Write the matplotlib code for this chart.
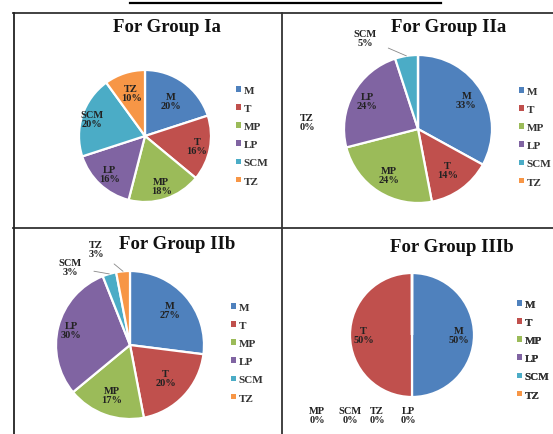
import matplotlib
matplotlib.use('Agg')
import matplotlib.pyplot as plt
import numpy as np
from matplotlib.lines import Line2D
from matplotlib.patches import Patch

plt.rcParams['font.family'] = 'Liberation Serif'
plt.rcParams['font.weight'] = 'bold'

# categories and colours (Excel 2007 defaults)
names = ['M', 'T', 'MP', 'LP', 'SCM', 'TZ']
colors = ['#4F81BD', '#C0504D', '#9BBB59', '#8064A2', '#4BACC6', '#F79646']

# percentage shares per group
group_ia = [20, 16, 18, 16, 20, 10]
group_iia = [33, 14, 24, 24, 5, 0]
group_iib = [27, 20, 17, 30, 3, 3]
group_iiib = [50, 50, 0, 0, 0, 0]

W, H = 553, 435
fig = plt.figure(figsize=(W / 100, H / 100), dpi=100)
ax = fig.add_axes([0, 0, 1, 1])


def Y(y):
    # image row -> data y
    return H - y


# panels: title, values, centre (image px), radius, title pos, legend pos,
# inside-label distance per slice, outside labels {index: (x, y, leader)}
panels = [
    dict(title='For Group Ia', vals=group_ia, c=(145, 137), r=66,
         tpos=(167, 28), lpos=(236, 87),
         dist=[0.66, 0.8, 0.8, 0.78, 0.85, 0.68], out={}),
    dict(title='For Group IIa', vals=group_iia, c=(418, 130), r=74,
         tpos=(449, 28), lpos=(519, 88),
         dist=[0.76, 0.68, 0.74, 0.78, 0.75, 0.75],
         out={4: (365, 39, True), 5: (307, 123, False)}),
    dict(title='For Group IIb', vals=group_iib, c=(130, 346), r=74,
         tpos=(177, 245), lpos=(231, 304),
         dist=[0.72, 0.66, 0.72, 0.82, 0.75, 0.75],
         out={4: (70, 268, True), 5: (96, 250, True)}),
    dict(title='For Group IIIb', vals=group_iiib, c=(412, 336), r=62,
         tpos=(452, 248), lpos=(517, 301),
         dist=[0.75, 0.78, 0.75, 0.75, 0.75, 0.75],
         out={2: (317, 416, False), 4: (350, 416, False),
              5: (377, 416, False), 3: (408, 416, False)}),
]

lblsize = 7.5
handles = [Patch(facecolor=c, edgecolor='none') for c in colors]

for p in panels:
    cx, cy = p['c']
    wedges, _ = ax.pie(p['vals'], colors=colors, startangle=90, counterclock=False,
                       center=(cx, Y(cy)), radius=p['r'],
                       wedgeprops=dict(edgecolor='white', linewidth=1.6))
    for i, w in enumerate(wedges):
        txt = '%s\n%d%%' % (names[i], p['vals'][i])
        mid = np.deg2rad((w.theta1 + w.theta2) / 2)
        ex = cx + p['r'] * np.cos(mid)
        ey = Y(cy) + p['r'] * np.sin(mid)
        if i in p['out']:
            tx, ty, leader = p['out'][i]
            if leader:
                ax.annotate(txt, xy=(ex, ey), xytext=(tx, Y(ty)),
                            ha='center', va='center', fontsize=lblsize,
                            linespacing=1.0, color='#222222',
                            arrowprops=dict(arrowstyle='-', color='#888888',
                                            lw=0.6, shrinkA=7, shrinkB=0))
            else:
                ax.text(tx, Y(ty), txt, ha='center', va='center', fontsize=lblsize,
                        linespacing=1.0, color='#222222')
        elif p['vals'][i] > 0:
            d = p['dist'][i] * p['r']
            ax.text(cx + d * np.cos(mid), Y(cy) + d * np.sin(mid), txt,
                    ha='center', va='center', fontsize=lblsize, linespacing=1.0,
                    color='#222222')
    ax.text(p['tpos'][0], Y(p['tpos'][1]), p['title'], ha='center', va='center',
            fontsize=13.5, color='#111111')
    leg = ax.legend(handles, names, loc='upper left',
                    bbox_to_anchor=(p['lpos'][0], Y(p['lpos'][1])),
                    bbox_transform=ax.transData, frameon=False,
                    prop=dict(family='Liberation Serif', weight='bold', size=8),
                    handlelength=0.42, handleheight=0.42, handletextpad=0.25,
                    labelspacing=0.82, borderpad=0, borderaxespad=0)
    for t in leg.get_texts():
        t.set_color('#333333')
    ax.add_artist(leg)

# frame lines of the 2x2 grid and the rule above it
def hline(x0, x1, y, lw, col):
    ax.add_line(Line2D([x0, x1], [Y(y), Y(y)], lw=lw, color=col))


def vline(x, y0, y1, lw, col):
    ax.add_line(Line2D([x, x], [Y(y0), Y(y1)], lw=lw, color=col))


hline(130, 441, 3.5, 1.6, 'black')
hline(13, 553, 14, 1.3, '#333333')
hline(13, 553, 229, 1.3, '#333333')
vline(14, 14, 435, 1.3, '#222222')
vline(281.5, 14, 435, 1.3, '#333333')

ax.set_xlim(0, W)
ax.set_ylim(0, H)
ax.set_aspect('auto')
ax.axis('off')

fig.savefig('out.png', dpi=100)
